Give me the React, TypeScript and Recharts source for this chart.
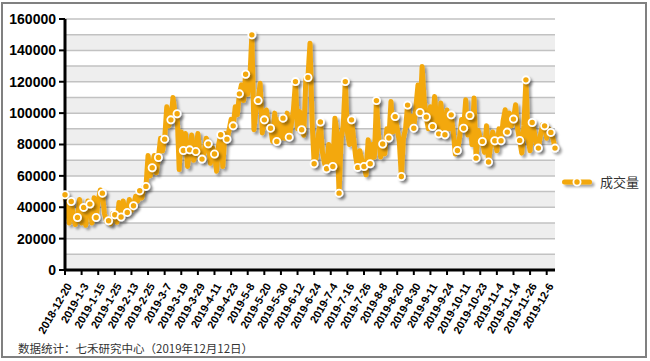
import React from 'react';
import {
  LineChart,
  Line,
  XAxis,
  YAxis,
  ReferenceArea,
  ReferenceLine,
} from 'recharts';

// trading days: start date, closed days, and one day missing from the source data
const startDate = '2018-12-20';
const closedDays = [
  '2018-12-31', '2019-1-1',
  '2019-2-4', '2019-2-5', '2019-2-6', '2019-2-7', '2019-2-8',
  '2019-4-5', '2019-5-1', '2019-5-2', '2019-5-3', '2019-6-7', '2019-9-13',
  '2019-10-1', '2019-10-2', '2019-10-3', '2019-10-4', '2019-10-7',
  '2019-8-1',
];

// 成交量 (daily volume)
const volume: number[] = [
  48000, 41000, 30000, 43700, 34000, 29000, 33500, 45000, 30000, 39900,
  28500, 44000, 42000, 30000, 46000, 33500, 44000, 51000, 49000, 36000,
  31000, 31400, 29500, 36000, 35200, 30500, 43000, 33800, 44000, 36000,
  36700, 45000, 38000, 41000, 47000, 44000, 50500, 46000, 53000, 53300,
  73000, 60000, 65200, 73000, 62000, 71700, 84000, 76000, 83400, 104000,
  92000, 95700, 110000, 100000, 99600, 64000, 88000, 76200, 87000, 66000,
  76600, 86000, 70000, 75500, 87000, 74000, 70700, 75000, 84000, 80400,
  68000, 78000, 73900, 63000, 80000, 86200, 66000, 87000, 83400, 89000,
  96000, 91900, 104000, 99000, 112300, 118000, 108000, 124800, 112000, 121000,
  149900, 89400, 102000, 108000, 119000, 87400, 95700, 102000, 92000, 90400,
  82000, 100000, 81900, 96000, 84000, 96800, 84000, 100000, 84700, 93000,
  102000, 120100, 90000, 101000, 89400, 86000, 122000, 122700, 144600, 95000,
  67700, 72000, 86000, 94300, 75000, 68000, 64500, 80000, 72000, 66000,
  96800, 88000, 49000, 84000, 92000, 120100, 88000, 80000, 95700, 84000,
  72000, 65400, 76000, 70000, 66000, 60700, 83000, 67700, 80000, 72000,
  108000, 86000, 72000, 80300, 74000, 90000, 84100, 107400, 88000, 97800,
  90000, 82000, 59600, 84000, 90000, 105100, 92000, 98000, 90400, 104000,
  118000, 100400, 129700, 108000, 97500, 90000, 104000, 91500, 110600, 96000,
  86800, 106400, 94000, 86200, 102000, 90000, 98900, 88000, 74000, 76200,
  84000, 96000, 90400, 108500, 86000, 98500, 80000, 109600, 71300, 89000,
  84000, 81900, 75000, 92000, 68800, 80000, 88000, 82400, 76000, 90000,
  82400, 95000, 102100, 87900, 100000, 92000, 96200, 105300, 90000, 82600,
  74500, 92000, 121200, 84000, 76000, 94000, 88000, 80000, 77700, 86000,
  92500, 91900, 84000, 90000, 87700, 84000, 77700,
];

const yTicks = [0, 20000, 40000, 60000, 80000, 100000, 120000, 140000, 160000];
const gridValues = [10000, 20000, 30000, 40000, 50000, 60000, 70000, 80000, 90000, 100000, 110000, 120000, 130000, 140000, 150000, 160000];
const greyBands = [0, 20000, 40000, 60000, 80000, 100000, 120000, 140000];

const ORANGE = '#F3A80B';

const tradingDays = (start: string, count: number, closed: string[]) => {
  const [y, m, d] = start.split('-').map(Number);
  const cur = new Date(Date.UTC(y, m - 1, d));
  const out: string[] = [];
  while (out.length < count) {
    const label = `${cur.getUTCFullYear()}-${cur.getUTCMonth() + 1}-${cur.getUTCDate()}`;
    const wd = cur.getUTCDay();
    if (wd !== 0 && wd !== 6 && !closed.includes(label)) out.push(label);
    cur.setUTCDate(cur.getUTCDate() + 1);
  }
  return out;
};

const dates = tradingDays(startDate, volume.length, closedDays);
const data = dates.map((date, i) => ({ date, vol: volume[i] }));

const renderDot = (props: any) => {
  const { cx, cy, index } = props;
  if (index % 3 !== 0 && index !== volume.length - 1) return <g key={`d-${index}`} />;
  return (
    <circle
      key={`d-${index}`}
      cx={cx}
      cy={cy}
      r={3.6}
      fill={ORANGE}
      stroke="#fff"
      strokeWidth={1.8}
      filter="url(#shadow)"
    />
  );
};

const DateTick = (props: any) => {
  const { x, y, payload } = props;
  return (
    <g transform={`translate(${x + 4},${y + 7})`}>
      <text
        x={0}
        y={0}
        dy="0.35em"
        textAnchor="end"
        transform="rotate(-60)"
        fontSize={11}
        fontWeight="bold"
        fontFamily="'Liberation Sans', Arial, sans-serif"
        fill="#000"
      >
        {payload.value}
      </text>
    </g>
  );
};

const LegendBox = () => (
  <svg width={90} height={24} style={{ position: 'absolute', left: 561, top: 170 }}>
    <defs>
      <filter id="legshadow" filterUnits="userSpaceOnUse" x="0" y="0" width="90" height="24">
        <feDropShadow dx={2.5} dy={2.5} stdDeviation={1.2} floodColor="#000" floodOpacity={0.35} />
      </filter>
    </defs>
    <rect x={1} y={9.5} width={30} height={5} rx={2.5} fill={ORANGE} filter="url(#legshadow)" />
    <circle cx={16} cy={12} r={3.6} fill={ORANGE} stroke="#fff" strokeWidth={1.8} />
    <text x={39} y={17} fontSize={13} fontFamily="'Noto Sans CJK SC', sans-serif" fill="#333">
      成交量
    </text>
  </svg>
);

export default function App() {
  return (
    <div style={{ position: 'absolute', left: 0, top: 0, width: 650, height: 361, background: '#fff' }}>
      <div
        style={{
          position: 'absolute',
          left: 1,
          top: 2,
          width: 646,
          height: 356,
          border: '2px solid #808080',
          boxSizing: 'border-box',
        }}
      />
      <div style={{ position: 'absolute', left: 0, top: 0 }}>
        <LineChart width={650} height={361} data={data} margin={{ top: 19, right: 95, bottom: 0, left: 0 }}>
          <defs>
            <filter id="shadow" filterUnits="userSpaceOnUse" x="0" y="0" width="650" height="361">
              <feDropShadow dx={2.5} dy={2.5} stdDeviation={1.2} floodColor="#000" floodOpacity={0.35} />
            </filter>
          </defs>
          {greyBands.map((b) => (
            <ReferenceArea key={`band-${b}`} y1={b} y2={b + 10000} fill="#eeeeee" fillOpacity={1} stroke="none" ifOverflow="hidden" />
          ))}
          {gridValues.map((v) => (
            <ReferenceLine key={`grid-${v}`} y={v} stroke="#c2c2c2" strokeWidth={1.5} />
          ))}
          <XAxis
            dataKey="date"
            interval={7}
            height={91}
            tick={<DateTick />}
            tickLine={{ stroke: '#000', strokeWidth: 2 }}
            tickSize={5}
            axisLine={{ stroke: '#000', strokeWidth: 3 }}
            padding={{ left: 0, right: 0 }}
          />
          <YAxis
            domain={[0, 160000]}
            ticks={yTicks}
            width={65}
            interval={0}
            tick={{ fontSize: 14, fontWeight: 'bold', fill: '#000', fontFamily: "'Liberation Sans', Arial, sans-serif" }}
            tickLine={{ stroke: '#000', strokeWidth: 2 }}
            tickSize={6}
            tickMargin={3}
            axisLine={{ stroke: '#000', strokeWidth: 3 }}
          />
          <Line
            type="linear"
            dataKey="vol"
            name="成交量"
            stroke={ORANGE}
            strokeWidth={5}
            strokeLinejoin="round"
            filter="url(#shadow)"
            dot={renderDot}
            activeDot={false}
            isAnimationActive={false}
          />
        </LineChart>
      </div>
      <LegendBox />
      <div
        style={{
          position: 'absolute',
          left: 18,
          top: 340,
          fontSize: 11.5,
          fontFamily: "'Noto Sans CJK SC', sans-serif",
          color: '#333',
          whiteSpace: 'nowrap',
        }}
      >
        数据统计：七禾研究中心（2019年12月12日）
      </div>
    </div>
  );
}
